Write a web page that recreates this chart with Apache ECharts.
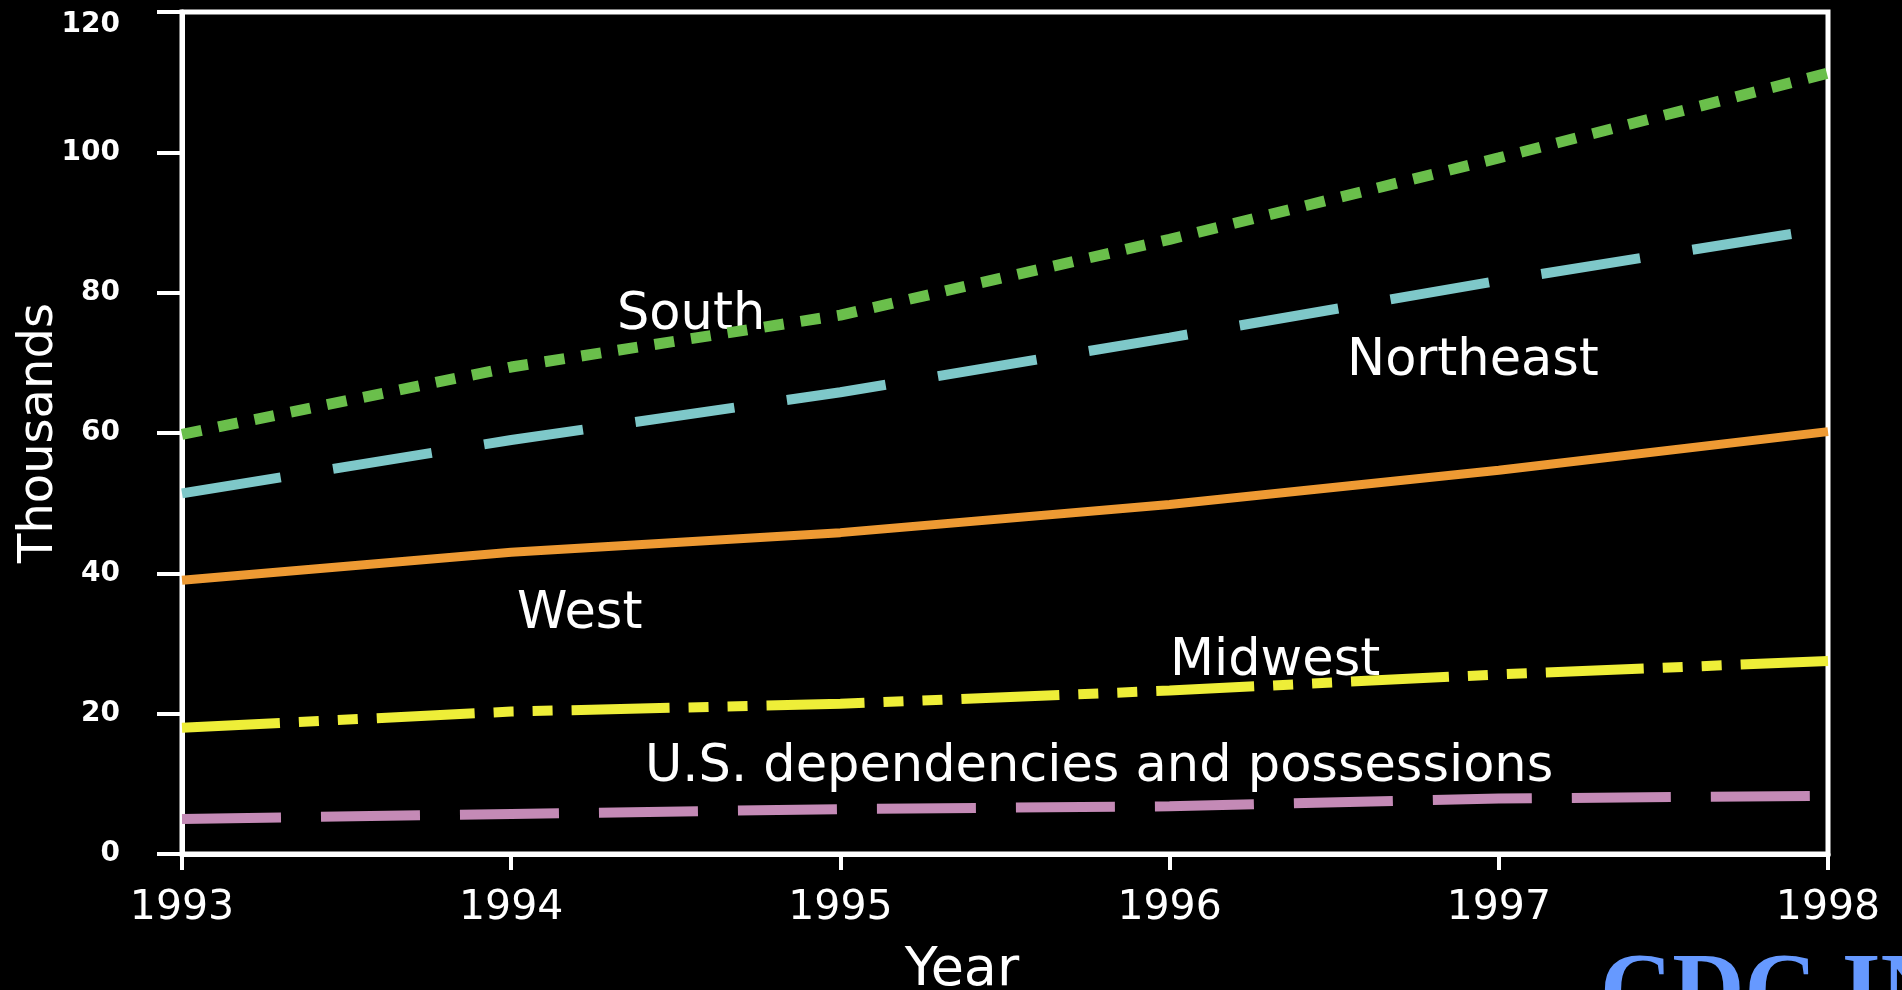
<!DOCTYPE html>
<html>
<head>
<meta charset="utf-8">
<script src="https://cdn.jsdelivr.net/npm/echarts@6/dist/echarts.min.js"></script>
<style>
  html, body { margin: 0; padding: 0; background: #000; }
  #chart { width: 1902px; height: 990px; }
</style>
</head>
<body>
<div id="chart"></div>
<script>
  // data (thousands)
  var years = ['1993', '1994', '1995', '1996', '1997', '1998'];
  var south = [59.8, 69.4, 76.8, 87.6, 99.2, 111.3];
  var northeast = [51.4, 59.0, 65.8, 73.6, 81.7, 89.2];
  var west = [39.0, 43.0, 45.8, 49.8, 54.7, 60.2];
  var midwest = [18.0, 20.3, 21.4, 23.3, 25.6, 27.5];
  var usDep = [5.0, 5.7, 6.4, 6.8, 7.9, 8.3];

  var font = 'DejaVu Sans';
  var chart = echarts.init(document.getElementById('chart'));

  function line(name, data, color, width, dash) {
    return {
      name: name,
      type: 'line',
      data: data,
      symbol: 'none',
      smooth: false,
      lineStyle: { color: color, width: width, type: dash, cap: 'butt' }
    };
  }

  function tag(text, x, y) {
    return {
      type: 'text',
      left: x,
      top: y - 20,
      style: {
        text: text,
        fill: '#fff',
        font: '51px "' + font + '"'
      }
    };
  }

  chart.setOption({
    backgroundColor: '#000',
    animation: false,
    grid: {
      left: 182, right: 74, top: 12, bottom: 136,
      show: true, borderColor: '#fff', borderWidth: 5,
      outerBoundsMode: 'none'
    },
    xAxis: {
      type: 'category',
      data: years,
      boundaryGap: false,
      name: 'Year',
      nameLocation: 'middle',
      nameGap: 90,
      nameMoveOverlap: false,
      nameTextStyle: { color: '#fff', fontFamily: font, fontSize: 54, padding: [0, 86, 0, 0] },
      axisLine: { lineStyle: { color: '#fff', width: 5 } },
      axisTick: { alignWithLabel: true, length: 16, lineStyle: { color: '#fff', width: 4 } },
      axisLabel: { color: '#fff', fontFamily: font, fontSize: 41, margin: 34 },
      splitLine: { show: false }
    },
    yAxis: {
      type: 'value',
      min: 0, max: 120, interval: 20,
      name: 'Thousands',
      nameLocation: 'middle',
      nameGap: 118,
      nameMoveOverlap: false,
      nameTextStyle: { color: '#fff', fontFamily: font, fontSize: 48 },
      axisLine: { show: true, lineStyle: { color: '#fff', width: 5 } },
      axisTick: { show: true, length: 25, lineStyle: { color: '#fff', width: 4 } },
      axisLabel: {
        color: '#fff', fontFamily: font, fontSize: 28, fontWeight: 'bold', margin: 62,
        formatter: function (v) { return v === 120 ? '{t|120}' : String(v); },
        rich: { t: { color: '#fff', fontFamily: font, fontSize: 28, fontWeight: 'bold', padding: [26, 0, 0, 0] } }
      },
      splitLine: { show: false }
    },
    series: [
      line('South', south, '#6abf4b', 11, [20, 17]),
      line('Northeast', northeast, '#7ec8c9', 10, [100, 53]),
      line('West', west, '#ee9a33', 9, 'solid'),
      line('Midwest', midwest, '#eeee38', 10, [98, 19, 20, 19, 20, 19]),
      line('U.S. dependencies and possessions', usDep, '#c48ab6', 10, [99, 40])
    ],
    graphic: [
      tag('South', 617, 310),
      tag('Northeast', 1347, 356),
      tag('West', 517, 609),
      tag('Midwest', 1170, 656),
      tag('U.S. dependencies and possessions', 645, 762),
      {
        type: 'text',
        left: 1600,
        top: 945,
        style: {
          text: 'CDC IN',
          fill: '#6699ff',
          font: 'bold 100px "Liberation Serif"'
        }
      }
    ]
  });
</script>
</body>
</html>
